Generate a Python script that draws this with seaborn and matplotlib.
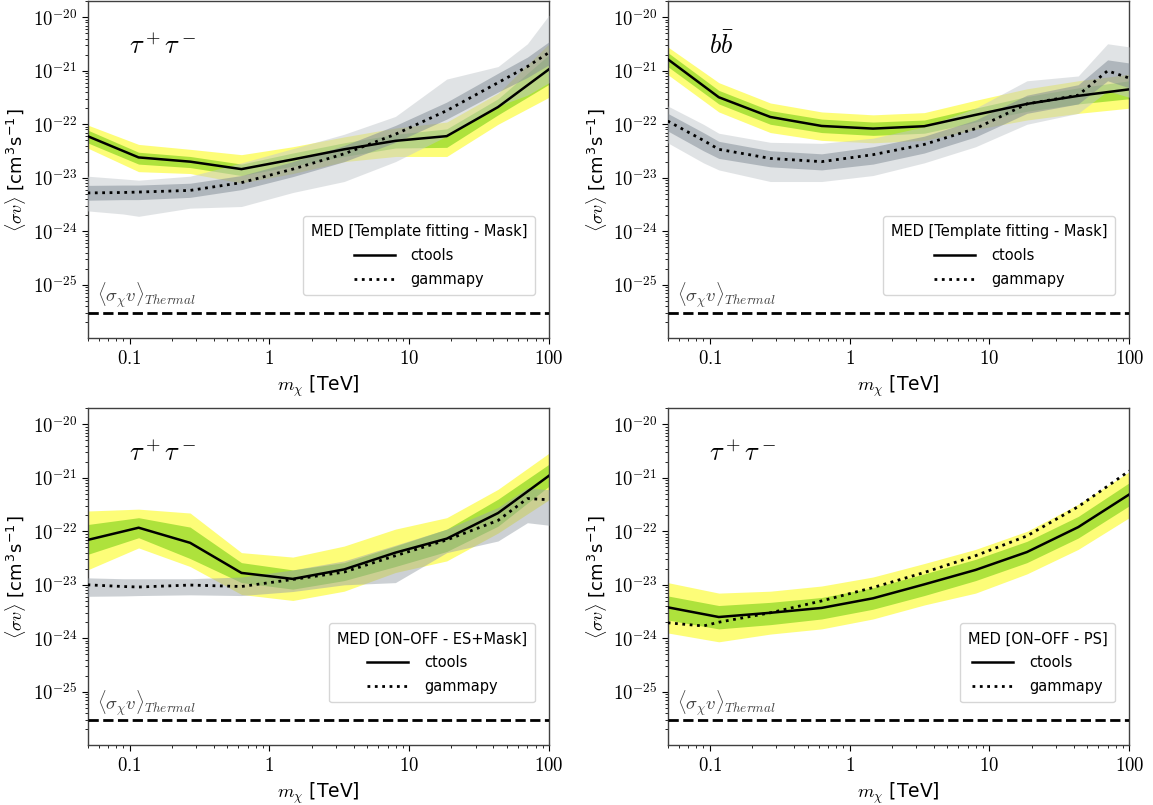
import numpy as np
import pandas as pd
import seaborn as sns
from matplotlib import pyplot as plt
from matplotlib import ticker
from matplotlib import transforms

plt.rcParams['mathtext.fontset'] = 'cm'
plt.rcParams['font.family'] = ['DejaVu Sans']

# mass grids [TeV]
mass = [0.05, 0.116, 0.271, 0.631, 1.47, 3.42, 7.96, 18.54, 43.16, 100]
mass_gp = [0.05, 0.09, 0.116, 0.271, 0.631, 1.47, 3.42, 7.96, 18.54, 43.16, 70, 100]

thermal = 3e-26

# --- top left: tau tau, template fitting ---
tl_ct_med = [6.0e-23, 2.4e-23, 2.0e-23, 1.45e-23, 2.2e-23, 3.4e-23, 4.9e-23, 6.0e-23, 2.1e-22, 1.07e-21]
tl_ct_1lo = [4.5e-23, 1.8e-23, 1.55e-23, 1.1e-23, 1.65e-23, 2.5e-23, 3.6e-23, 3.7e-23, 1.5e-22, 5.6e-22]
tl_ct_1hi = [7.8e-23, 3.0e-23, 2.5e-23, 1.8e-23, 2.9e-23, 4.5e-23, 6.5e-23, 8.2e-23, 3.0e-22, 2.0e-21]
tl_ct_2lo = [3.6e-23, 1.3e-23, 1.2e-23, 8.0e-24, 1.2e-23, 2.0e-23, 2.5e-23, 2.5e-23, 1.0e-22, 3.2e-22]
tl_ct_2hi = [9.7e-23, 4.2e-23, 3.4e-23, 2.7e-23, 3.8e-23, 5.8e-23, 8.5e-23, 1.1e-22, 3.8e-22, 3.2e-21]
tl_gp_med = [5.2e-24, 5.3e-24, 5.4e-24, 5.8e-24, 8.1e-24, 1.45e-23, 2.8e-23, 6.5e-23, 1.8e-22, 6.0e-22, 1.2e-21, 2.2e-21]
tl_gp_1lo = [3.8e-24, 3.9e-24, 3.9e-24, 4.3e-24, 6.0e-24, 1.05e-23, 2.0e-23, 4.6e-23, 1.25e-22, 4.0e-22, 7.5e-22, 1.3e-21]
tl_gp_1hi = [7.2e-24, 7.3e-24, 7.3e-24, 7.9e-24, 1.1e-23, 2.0e-23, 4.0e-23, 9.5e-23, 2.6e-22, 9.0e-22, 1.8e-21, 3.5e-21]
tl_gp_2lo = [2.4e-24, 2.1e-24, 1.9e-24, 2.7e-24, 2.9e-24, 5.3e-24, 8.5e-24, 2.0e-23, 6.0e-23, 2.2e-22, 3.5e-22, 6.0e-22]
tl_gp_2hi = [1.07e-23, 9.5e-24, 9.0e-24, 1.07e-23, 1.9e-23, 3.5e-23, 6.5e-23, 1.4e-22, 7.0e-22, 1.2e-21, 3.2e-21, 1.1e-20]

# --- top right: b bbar, template fitting ---
tr_ct_med = [1.65e-21, 3.2e-22, 1.37e-22, 9.3e-23, 8.3e-23, 9.2e-23, 1.5e-22, 2.4e-22, 3.4e-22, 4.5e-22]
tr_ct_1lo = [1.2e-21, 2.4e-22, 1.0e-22, 7.0e-23, 6.2e-23, 6.8e-23, 1.1e-22, 1.75e-22, 2.4e-22, 3.0e-22]
tr_ct_1hi = [2.2e-21, 4.3e-22, 1.8e-22, 1.25e-22, 1.1e-22, 1.2e-22, 2.0e-22, 3.3e-22, 4.8e-22, 6.5e-22]
tr_ct_2lo = [8.5e-22, 1.7e-22, 7.0e-23, 5.0e-23, 4.5e-23, 5.0e-23, 8.0e-23, 1.2e-22, 1.6e-22, 2.0e-22]
tr_ct_2hi = [2.8e-21, 6.0e-22, 2.5e-22, 1.7e-22, 1.5e-22, 1.65e-22, 2.8e-22, 4.6e-22, 6.5e-22, 8.6e-22]
tr_gp_med = [1.15e-22, 5.0e-23, 3.4e-23, 2.3e-23, 2.0e-23, 2.7e-23, 4.2e-23, 8.3e-23, 2.4e-22, 3.5e-22, 1.0e-21, 7.3e-22]
tr_gp_1lo = [7.5e-23, 3.2e-23, 2.3e-23, 1.6e-23, 1.4e-23, 1.8e-23, 2.9e-23, 5.8e-23, 1.6e-22, 2.4e-22, 6.5e-22, 4.8e-22]
tr_gp_1hi = [1.6e-22, 7.0e-23, 4.8e-23, 3.2e-23, 2.8e-23, 3.8e-23, 6.0e-23, 1.2e-22, 3.5e-22, 5.5e-22, 1.6e-21, 1.4e-21]
tr_gp_2lo = [4.5e-23, 1.9e-23, 1.4e-23, 8.5e-24, 8.5e-24, 1.1e-23, 1.9e-23, 3.8e-23, 1.0e-22, 1.6e-22, 4.2e-22, 3.2e-22]
tr_gp_2hi = [2.2e-22, 1.0e-22, 6.8e-23, 4.6e-23, 4.4e-23, 5.5e-23, 9.0e-23, 2.0e-22, 6.5e-22, 8.0e-22, 3.2e-21, 2.8e-21]

# --- bottom left: tau tau, ON-OFF ES+Mask ---
bl_ct_med = [6.9e-23, 1.17e-22, 6.1e-23, 1.67e-23, 1.29e-23, 1.94e-23, 4.0e-23, 7.3e-23, 2.2e-22, 1.1e-21]
bl_ct_1lo = [3.7e-23, 7.6e-23, 3.1e-23, 1.1e-23, 8.3e-24, 1.2e-23, 2.2e-23, 4.2e-23, 1.25e-22, 7.0e-22]
bl_ct_1hi = [1.34e-22, 1.8e-22, 1.2e-22, 2.6e-23, 1.9e-23, 2.6e-23, 5.3e-23, 1.1e-22, 4.0e-22, 1.8e-21]
bl_ct_2lo = [1.9e-23, 4.9e-23, 2.2e-23, 6.6e-24, 5.1e-24, 7.6e-24, 1.7e-23, 2.8e-23, 9.3e-23, 3.9e-22]
bl_ct_2hi = [2.4e-22, 2.6e-22, 2.2e-22, 4.0e-23, 3.3e-23, 5.3e-23, 1.1e-22, 1.8e-22, 6.1e-22, 2.9e-21]
bl_gp_med = [1.0e-23, 9.3e-24, 9.1e-24, 9.9e-24, 9.3e-24, 1.26e-23, 1.73e-23, 3.5e-23, 6.9e-23, 1.6e-22, 4.1e-22, 3.9e-22]
bl_gp_lo = [6.1e-24, 6.2e-24, 6.3e-24, 6.5e-24, 6.3e-24, 7.5e-24, 1.0e-23, 1.1e-23, 4.0e-23, 6.6e-23, 1.45e-22, 1.3e-22]
bl_gp_hi = [1.35e-23, 1.3e-23, 1.3e-23, 1.3e-23, 1.4e-23, 1.9e-23, 2.8e-23, 5.5e-23, 1.1e-22, 2.8e-22, 6.5e-22, 6.0e-22]

# --- bottom right: tau tau, ON-OFF PS ---
br_ct_med = [3.8e-24, 2.5e-24, 3.0e-24, 3.7e-24, 5.6e-24, 1.02e-23, 1.9e-23, 4.1e-23, 1.2e-22, 4.9e-22]
br_ct_1lo = [2.2e-24, 1.5e-24, 1.8e-24, 2.3e-24, 3.5e-24, 6.3e-24, 1.2e-23, 2.6e-23, 7.5e-23, 3.0e-22]
br_ct_1hi = [6.2e-24, 4.1e-24, 4.7e-24, 5.8e-24, 8.8e-24, 1.6e-23, 3.0e-23, 6.5e-23, 1.9e-22, 8.1e-22]
br_ct_2lo = [1.26e-24, 8.6e-25, 1.2e-24, 1.5e-24, 2.3e-24, 4.2e-24, 7.0e-24, 1.6e-23, 4.6e-23, 1.8e-22]
br_ct_2hi = [1.1e-23, 7.0e-24, 7.6e-24, 9.5e-24, 1.4e-23, 2.5e-23, 4.6e-23, 1.0e-22, 3.2e-22, 1.3e-21]
br_gp_med = [1.95e-24, 1.7e-24, 2.0e-24, 3.0e-24, 5.0e-24, 8.9e-24, 1.7e-23, 3.5e-23, 8.2e-23, 2.9e-22, 7.0e-22, 1.35e-21]

channels = [r'$\tau^+\tau^-$', r'$b\bar{b}$', r'$\tau^+\tau^-$', r'$\tau^+\tau^-$']
legend_titles = ['MED [Template fitting - Mask]', 'MED [Template fitting - Mask]',
                 'MED [ON\u2013OFF - ES+Mask]', 'MED [ON\u2013OFF - PS]']

panels = [
    dict(ct=(tl_ct_med, tl_ct_1lo, tl_ct_1hi, tl_ct_2lo, tl_ct_2hi),
         gp=tl_gp_med, gp_bands=[(tl_gp_2lo, tl_gp_2hi), (tl_gp_1lo, tl_gp_1hi)]),
    dict(ct=(tr_ct_med, tr_ct_1lo, tr_ct_1hi, tr_ct_2lo, tr_ct_2hi),
         gp=tr_gp_med, gp_bands=[(tr_gp_2lo, tr_gp_2hi), (tr_gp_1lo, tr_gp_1hi)]),
    dict(ct=(bl_ct_med, bl_ct_1lo, bl_ct_1hi, bl_ct_2lo, bl_ct_2hi),
         gp=bl_gp_med, gp_bands=[(bl_gp_lo, bl_gp_hi)]),
    dict(ct=(br_ct_med, br_ct_1lo, br_ct_1hi, br_ct_2lo, br_ct_2hi),
         gp=br_gp_med, gp_bands=[]),
]

yellow = '#fdfd78'
green = '#aee23c'
gray2 = '#c3c8cc'
gray1 = '#7f8a94'

fig, axes = plt.subplots(2, 2, figsize=(11.53, 8.05), dpi=100)
fig.subplots_adjust(left=0.0759, right=0.9794, top=0.9985, bottom=0.0742,
                    wspace=0.257, hspace=0.208)

for i, ax in enumerate(axes.flat):
    p = panels[i]
    med, lo1, hi1, lo2, hi2 = p['ct']
    ax.fill_between(mass, lo2, hi2, color=yellow, lw=0, zorder=1)
    ax.fill_between(mass, lo1, hi1, color=green, lw=0, zorder=2)
    for k, (blo, bhi) in enumerate(p['gp_bands']):
        if len(p['gp_bands']) == 1:
            ax.fill_between(mass_gp, blo, bhi, color='#9aa3ab', alpha=0.5, lw=0, zorder=3)
        elif k == 0:
            ax.fill_between(mass_gp, blo, bhi, color=gray2, alpha=0.5, lw=0, zorder=3)
        else:
            ax.fill_between(mass_gp, blo, bhi, color=gray1, alpha=0.5, lw=0, zorder=4)

    df_ct = pd.DataFrame({'mass': mass, 'sv': med})
    df_gp = pd.DataFrame({'mass': mass_gp, 'sv': p['gp']})
    sns.lineplot(data=df_ct, x='mass', y='sv', ax=ax, color='k', lw=1.8,
                 label='ctools', zorder=6)
    sns.lineplot(data=df_gp, x='mass', y='sv', ax=ax, color='k', lw=2.0,
                 linestyle=':', label='gammapy', zorder=6)

    ax.axhline(thermal, color='k', ls='--', lw=2, zorder=5)
    trans = transforms.blended_transform_factory(ax.transAxes, ax.transData)
    ax.text(0.02, thermal * 1.1, r'$\langle\sigma_\chi v\rangle_{Thermal}$',
            transform=trans, fontsize=13.5, color='0.25', ha='left', va='bottom')

    ax.text(0.09, 0.865, channels[i], transform=ax.transAxes, fontsize=19,
            ha='left', va='center')

    ax.set_xscale('log')
    ax.set_yscale('log')
    ax.set_xlim(0.05, 100)
    ax.set_ylim(1e-26, 2e-20)
    ax.set_yticks([1e-25, 1e-24, 1e-23, 1e-22, 1e-21, 1e-20])
    ax.yaxis.set_major_formatter(ticker.FuncFormatter(
        lambda v, pos: r'$10^{%d}$' % int(round(np.log10(v)))))
    ax.yaxis.set_minor_locator(ticker.LogLocator(base=10, subs=np.arange(2, 10), numticks=20))
    ax.yaxis.set_minor_formatter(ticker.NullFormatter())
    ax.set_xticks([0.1, 1, 10, 100])
    ax.set_xticklabels([r'$0.1$', r'$1$', r'$10$', r'$100$'])
    ax.xaxis.set_minor_formatter(ticker.NullFormatter())
    ax.tick_params(axis='both', which='major', labelsize=13.5, length=4)
    ax.tick_params(axis='both', which='minor', length=2)

    ax.set_xlabel(r'$m_\chi$ [TeV]', fontsize=13.5)
    ax.set_ylabel(r'$\langle\sigma v\rangle$ [cm$^{\mathdefault{3}}$s$^{\mathdefault{-1}}$]',
                  fontsize=13, labelpad=3)

    for sp in ax.spines.values():
        sp.set_color('0.25')
        sp.set_linewidth(1.0)

    ax.legend(title=legend_titles[i], loc='lower right', bbox_to_anchor=(0.97, 0.127),
              borderaxespad=0, fontsize=10.5, title_fontsize=10.5, labelspacing=0.62,
              handlelength=2.8, handletextpad=1.1, borderpad=0.55)

fig.savefig('out.png', dpi=100)
